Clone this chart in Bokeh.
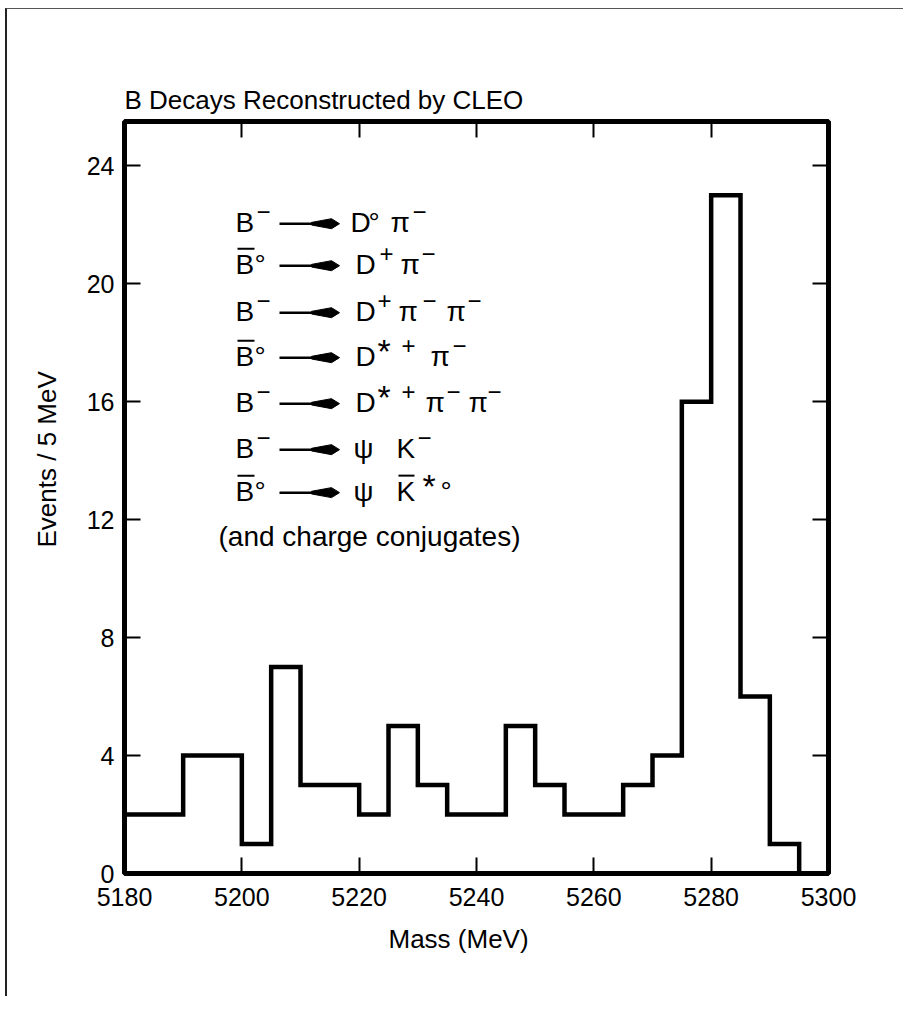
from math import pi
from bokeh.plotting import figure
from bokeh.models import FixedTicker, LinearAxis, ColumnDataSource, Title, LabelSet
from bokeh.core.properties import value
from bokeh.embed import file_html
from bokeh.resources import INLINE

# ---------------- data ----------------
title_text = "B Decays Reconstructed by CLEO"
x_label = "Mass (MeV)"
y_label = "Events / 5 MeV"
bin_edges = [5180, 5185, 5190, 5195, 5200, 5205, 5210, 5215, 5220, 5225, 5230, 5235,
             5240, 5245, 5250, 5255, 5260, 5265, 5270, 5275, 5280, 5285, 5290, 5295, 5300]
counts = [2, 2, 4, 4, 1, 7, 3, 3, 2, 5, 3, 2, 2, 5, 3, 2, 2, 3, 4, 16, 23, 6, 1, 0]
x_ticks = [5180, 5200, 5220, 5240, 5260, 5280, 5300]
y_ticks = [0, 4, 8, 12, 16, 20, 24]
note_text = "(and charge conjugates)"

FONT = "Liberation Sans"

# ---------------- figure ----------------
p = figure(width=898, height=988, x_range=(5180, 5300), y_range=(0, 25.5),
           output_backend="svg", toolbar_location=None,
           min_border_left=117, min_border_right=77, min_border_top=112, min_border_bottom=124)
p.styles = {"border-left": "2px solid #222", "border-top": "1px solid #555",
            "margin-left": "5px", "margin-top": "8px"}
p.grid.visible = False
p.outline_line_color = "black"
p.outline_line_width = 5
p.background_fill_color = "white"
p.border_fill_color = "white"


def style_axis(ax, ticks, labels=True):
    ax.axis_line_color = None
    ax.major_tick_in = 16
    ax.major_tick_out = 0
    ax.major_tick_line_width = 2
    ax.major_tick_line_color = "black"
    ax.minor_tick_line_color = None
    ax.major_label_text_font = FONT
    ax.major_label_text_font_size = "25px"
    ax.major_label_text_color = "black"
    ax.major_label_standoff = 10
    if not labels:
        ax.major_label_overrides = {t: "" for t in ticks}
        ax.major_label_standoff = 0


p.xaxis.ticker = FixedTicker(ticks=x_ticks)
p.yaxis.ticker = FixedTicker(ticks=y_ticks)
style_axis(p.xaxis[0], x_ticks)
style_axis(p.yaxis[0], y_ticks)
p.xaxis[0].major_label_standoff = 14
top_ax = LinearAxis(ticker=FixedTicker(ticks=x_ticks))
right_ax = LinearAxis(ticker=FixedTicker(ticks=y_ticks))
style_axis(top_ax, x_ticks, labels=False)
style_axis(right_ax, y_ticks, labels=False)
p.add_layout(top_ax, "above")
p.add_layout(right_ax, "right")

# titles (chart title and axis titles)
p.add_layout(Title(text=title_text, align="left", text_font=FONT, text_font_size="26px",
                   text_font_style="normal", text_color="black", standoff=13), "above")
p.add_layout(Title(text=x_label, align="left", offset=264, text_font=FONT,
                   text_font_size="26px", text_font_style="normal", text_color="black",
                   standoff=26), "below")
p.add_layout(Title(text=y_label, align="left", offset=326, text_font=FONT,
                   text_font_size="26px", text_font_style="normal", text_color="black",
                   standoff=44), "left")

# histogram
p.step(x=bin_edges, y=counts + [counts[-1]], mode="after", line_width=4.5,
       line_color="black", line_join="miter")

# ---------------- reaction list (layout helpers in pixels) ----------------
def X(px):
    return 5180 + (px - 124) / 5.867


def Y(py):
    return (873 - py) / 29.5


baselines = [231, 273, 320, 365, 411, 457, 500]
bar_parent = [False, True, False, True, False, False, True]
products = [
    [("D", 352, "n"), ("°", 370, "n"), ("π", 392, "n"), ("−", 413, "s")],
    [("D", 357, "n"), ("+", 380, "s"), ("π", 402, "n"), ("−", 422, "s")],
    [("D", 357, "n"), ("+", 378, "s"), ("π", 400, "n"), ("−", 423, "s"), ("π", 448, "n"), ("−", 468, "s")],
    [("D", 357, "n"), ("*", 378, "a"), ("+", 402, "s"), ("π", 432, "n"), ("−", 453, "s")],
    [("D", 357, "n"), ("*", 378, "a"), ("+", 402, "s"), ("π", 427, "n"), ("−", 447, "s"), ("π", 470, "n"), ("−", 488, "s")],
    [("ψ", 355, "n"), ("K", 398, "n"), ("−", 418, "s")],
    [("ψ", 355, "n"), ("K", 398, "n"), ("*", 423, "a"), ("°", 442, "n")],
]

groups = {"28px": ([], [], []), "24px": ([], [], []), "34px": ([], [], [])}
ox0, ox1, oy = [], [], []
sx0, sx1, sy = [], [], []
heads_x, heads_y = [], []


def put(txt, px, py, size):
    g = groups[size]
    g[0].append(X(px)); g[1].append(Y(py)); g[2].append(txt)


for i, b in enumerate(baselines):
    put("B", 235, b, "28px")
    if bar_parent[i]:
        put("°", 254, b, "28px")
        ox0.append(X(237)); ox1.append(X(254)); oy.append(Y(b - 25))
    else:
        put("−", 256, b - 12, "24px")
    c = b - 8
    sx0.append(X(279)); sx1.append(X(318)); sy.append(Y(c))
    heads_x.append([X(311), X(331), X(339), X(331), X(311)])
    heads_y.append([Y(c - 1.3), Y(c - 5), Y(c), Y(c + 5), Y(c + 1.3)])
    for txt, px, kind in products[i]:
        if kind == "n":
            put(txt, px - 2, b, "28px")
        elif kind == "s":
            put(txt, px - 1, b - 12, "24px")
        else:
            put(txt, px - 1, b - 3, "34px")
    if i == 6:
        ox0.append(X(398)); ox1.append(X(414)); oy.append(Y(b - 25))

put(note_text, 218, 545, "28px")

for size, (gx, gy, gt) in groups.items():
    if not gt:
        continue
    src = ColumnDataSource(dict(x=gx, y=gy, text=gt))
    p.add_layout(LabelSet(x="x", y="y", text="text", source=src, text_font=value(FONT),
                          text_font_size=value(size), text_align="left",
                          text_baseline="alphabetic", text_color="black"))
p.segment(x0=ox0, y0=oy, x1=ox1, y1=oy, line_width=2, line_color="black")
p.segment(x0=sx0, y0=sy, x1=sx1, y1=sy, line_width=2.5, line_color="black")
p.patches(xs=heads_x, ys=heads_y, fill_color="black", line_color="black", line_width=1)

open("out.html", "w").write(file_html(p, INLINE))
